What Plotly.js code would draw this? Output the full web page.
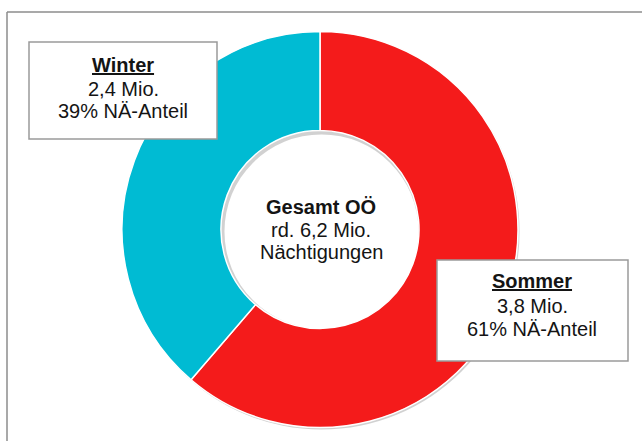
<!DOCTYPE html>
<html>
<head>
<meta charset="utf-8">
<script src="https://cdn.plot.ly/plotly-3.0.1.min.js"></script>
<style>html,body{margin:0;padding:0;background:#fff}#chart{width:642px;height:441px}</style>
</head>
<body>
<div id="chart"></div>
<script>
const seasons = ["Sommer", "Winter"];
const values = [3.8, 2.4];
const valueLabels = ["3,8 Mio.", "2,4 Mio."];
const shareLabels = ["61% NÄ-Anteil", "39% NÄ-Anteil"];
const colors = ["#F41B1B", "#00BBD3"];
const centerLines = ["Gesamt OÖ", "rd. 6,2 Mio.", "Nächtigungen"];

const W = 642, H = 441;
const cx = 320, cy = 229.5, R = 198;
const px = x => x / W;
const py = y => 1 - y / H;

const shadow = {
  type: "pie", values: [1], labels: ["s"], hole: 0.49, sort: false,
  marker: {colors: ["rgba(0,0,0,0.18)"]}, textinfo: "none", hoverinfo: "skip",
  showlegend: false,
  domain: {x: [px(cx - R + 1.5), px(cx + R + 1.5)], y: [py(cy + R + 2), py(cy - R + 2)]}
};
const donut = {
  type: "pie", labels: seasons, values: values, hole: 0.5, sort: false,
  direction: "clockwise", rotation: 0,
  marker: {colors: colors, line: {color: "#ffffff", width: 1.5}},
  textinfo: "none", hoverinfo: "label+value", showlegend: false,
  domain: {x: [px(cx - R), px(cx + R)], y: [py(cy + R), py(cy - R)]}
};

const font = {family: "Liberation Sans, Arial, sans-serif", size: 20, color: "#141414"};
const ann = [];
function line(text, x, yBase, bold, underline) {
  let t = text;
  if (underline) t = "<u>" + t + "</u>";
  if (bold) t = "<b>" + t + "</b>";
  ann.push({xref: "paper", yref: "paper", x: px(x), y: py(yBase + 7), xanchor: "center", yanchor: "bottom",
    text: t, showarrow: false, font: font});
}
// Winter box
line(seasons[1], 123, 71, true, true);
line(valueLabels[1], 123, 95, false, false);
line(shareLabels[1], 123, 117, false, false);
// Sommer box
line(seasons[0], 532, 287, true, true);
line(valueLabels[0], 532, 312, false, false);
line(shareLabels[0], 532, 335, false, false);
// Center
line(centerLines[0], 321, 213, true, false);
line(centerLines[1], 321, 236, false, false);
line(centerLines[2], 321, 258, false, false);

const shapes = [
  {type: "line", xref: "paper", yref: "paper", x0: px(7), x1: px(642), y0: py(12), y1: py(12), line: {color: "#8c8c8c", width: 1.5}, layer: "below"},
  {type: "line", xref: "paper", yref: "paper", x0: px(7), x1: px(7), y0: py(12), y1: py(441), line: {color: "#8c8c8c", width: 1.5}, layer: "below"},
  {type: "rect", xref: "paper", yref: "paper", x0: px(29), x1: px(217), y0: py(42), y1: py(139), fillcolor: "#ffffff", line: {color: "#9a9a9a", width: 1.5}, layer: "above"},
  {type: "rect", xref: "paper", yref: "paper", x0: px(437), x1: px(628), y0: py(260), y1: py(361), fillcolor: "#ffffff", line: {color: "#9a9a9a", width: 1.5}, layer: "above"}
];

const layout = {
  width: W, height: H, margin: {l: 0, r: 0, t: 0, b: 0},
  paper_bgcolor: "#ffffff", plot_bgcolor: "#ffffff",
  showlegend: false, shapes: shapes, annotations: ann
};
Plotly.newPlot("chart", [shadow, donut], layout, {displayModeBar: false, staticPlot: true});
</script>
</body>
</html>
